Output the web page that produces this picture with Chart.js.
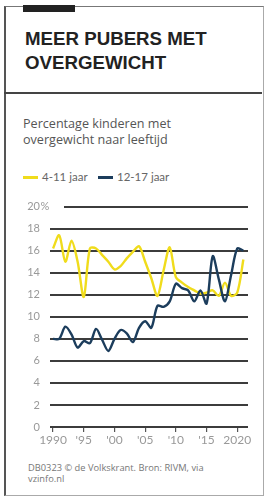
<!DOCTYPE html>
<html>
<head>
<meta charset="utf-8">
<script src="https://cdn.jsdelivr.net/npm/chart.js@4/dist/chart.umd.min.js"></script>
<style>
  html, body { margin:0; padding:0; background:#fff; }
  body { width:267px; height:498px; position:relative; overflow:hidden; font-family:"Liberation Sans", Arial, sans-serif; }
  .frame { position:absolute; left:4px; top:6px; width:257px; height:488px;
           border-left:2px solid #555; border-top:1px solid #777; border-right:1px solid #aaa; border-bottom:1px solid #aaa; }
  .tab { position:absolute; left:23px; top:5px; width:52px; height:7px; background:#222; }
  .title { position:absolute; left:25px; top:27px; font-weight:bold; font-size:18.7px; line-height:24px; color:#222; letter-spacing:0; }
  .sep { position:absolute; left:4px; top:92px; width:258px; height:2px; background:#444; }
  .sub { position:absolute; left:23px; top:116px; font-family:"Open Sans", sans-serif; font-size:12.6px; line-height:16px; color:#555; }
  .legend { position:absolute; left:0; top:170px; font-family:"Lato", sans-serif; font-size:11.5px; color:#666; }
  .legend span { position:absolute; white-space:nowrap; top:0; }
  .legend i { position:absolute; width:15px; height:3px; top:6px; }
  .foot { position:absolute; left:28px; top:462px; font-family:"Open Sans", sans-serif; font-size:9.3px; line-height:11px; color:#777; }
  #wrap { position:absolute; left:0; top:190px; width:267px; height:262px; }
</style>
</head>
<body>
<div class="frame"></div>
<div class="tab"></div>
<div class="title">MEER PUBERS MET<br>OVERGEWICHT</div>
<div class="sep"></div>
<div class="sub">Percentage kinderen met<br>overgewicht naar leeftijd</div>
<div class="legend" id="legend"></div>
<div id="wrap"><canvas id="chart" width="267" height="262"></canvas></div>
<div class="foot">DB0323 © de Volkskrant. Bron: RIVM, via<br>vzinfo.nl</div>

<script>
// ---------- DATA ----------
const years = [1990,1991,1992,1993,1994,1995,1996,1997,1998,1999,
               2000,2001,2002,2003,2004,2005,2006,2007,2008,2009,
               2010,2011,2012,2013,2014,2015,2016,2017,2018,2019,
               2020,2021];
const kids4to11 = [16.2,17.4,15.0,16.9,15.0,11.8,16.2,16.2,15.6,15.0,
                   14.3,14.6,15.3,15.9,16.4,15.0,13.5,11.9,14.2,16.3,
                   13.6,13.1,12.7,12.4,12.1,12.2,12.4,11.9,13.1,11.9,
                   12.2,15.2];
const kids12to17 = [8.0,8.0,9.1,8.4,7.2,7.8,7.6,8.9,7.9,6.9,
                    8.0,8.8,8.5,7.7,9.0,9.6,9.0,11.0,10.9,11.4,
                    13.0,12.6,12.4,11.4,12.4,11.2,15.5,13.4,11.4,13.8,
                    16.2,16.0];
const seriesLabels = ["4-11 jaar", "12-17 jaar"];
const xTicks = [1990,1995,2000,2005,2010,2015,2020];
const xTickLabels = ["1990","'95","'00","'05","'10","'15","2020"];
const yTicks = [0,2,4,6,8,10,12,14,16,18,20];

const YELLOW = "#f0dc1c";
const BLUE   = "#1c3d5c";

// ---------- LEGEND (html) ----------
(() => {
  const lg = document.getElementById("legend");
  const items = [
    { c:YELLOW, t:seriesLabels[0], x:23 },
    { c:BLUE,   t:seriesLabels[1], x:98 }
  ];
  lg.innerHTML = items.map(it =>
    `<i style="left:${it.x}px;background:${it.c}"></i><span style="left:${it.x+19}px">${it.t}</span>`
  ).join("");
})();

// ---------- CHART ----------
const toXY = arr => years.map((y,i) => ({ x:y, y:arr[i] }));

// "%" achter de 20 en stukje gridline weg
const pctPlugin = {
  id: "pct",
  afterDraw(chart){
    const { ctx, scales } = chart;
    const y20 = scales.y.getPixelForValue(20);
    ctx.save();
    ctx.fillStyle = "#fff";
    ctx.fillRect(48, y20 - 2, 16, 4);
    ctx.fillStyle = "#999";
    ctx.font = "11px Lato, sans-serif";
    ctx.textBaseline = "middle";
    ctx.textAlign = "left";
    ctx.fillText("%", 40.5, y20);
    ctx.restore();
  }
};

new Chart(document.getElementById("chart"), {
  type: "line",
  data: {
    datasets: [
      { label: seriesLabels[0], data: toXY(kids4to11), borderColor: YELLOW, borderWidth: 2.4, pointRadius: 0, tension: 0.3, order: 2 },
      { label: seriesLabels[1], data: toXY(kids12to17), borderColor: BLUE, borderWidth: 2.4, pointRadius: 0, tension: 0.3, order: 1 }
    ]
  },
  options: {
    responsive: false,
    animation: false,
    layout: { padding: { top: 10, right: 19, left: 0, bottom: 0 } },
    plugins: { legend: { display: false }, tooltip: { enabled: false } },
    scales: {
      x: {
        type: "linear",
        min: 1989.5, max: 2021.75,
        afterBuildTicks: s => { s.ticks = xTicks.map(v => ({ value: v })); },
        afterFit: s => { s.height = 25; },
        grid: { drawOnChartArea: false, drawTicks: true, tickLength: 5, color: "#555", lineWidth: 1.2 },
        border: { display: false },
        ticks: {
          padding: 1,
          color: "#999",
          font: { family: "Lato, sans-serif", size: 12 },
          maxRotation: 0,
          callback: v => xTickLabels[xTicks.indexOf(v)] ?? ""
        }
      },
      y: {
        min: 0, max: 20,
        afterBuildTicks: s => { s.ticks = yTicks.map(v => ({ value: v })); },
        afterFit: s => { s.width = 50; },
        grid: { drawTicks: false, color: "#3c3c3c", lineWidth: 2 },
        border: { display: false },
        ticks: {
          padding: 10,
          color: "#999",
          font: { family: "Lato, sans-serif", size: 11 }
        }
      }
    }
  },
  plugins: [pctPlugin]
});
</script>
</body>
</html>
